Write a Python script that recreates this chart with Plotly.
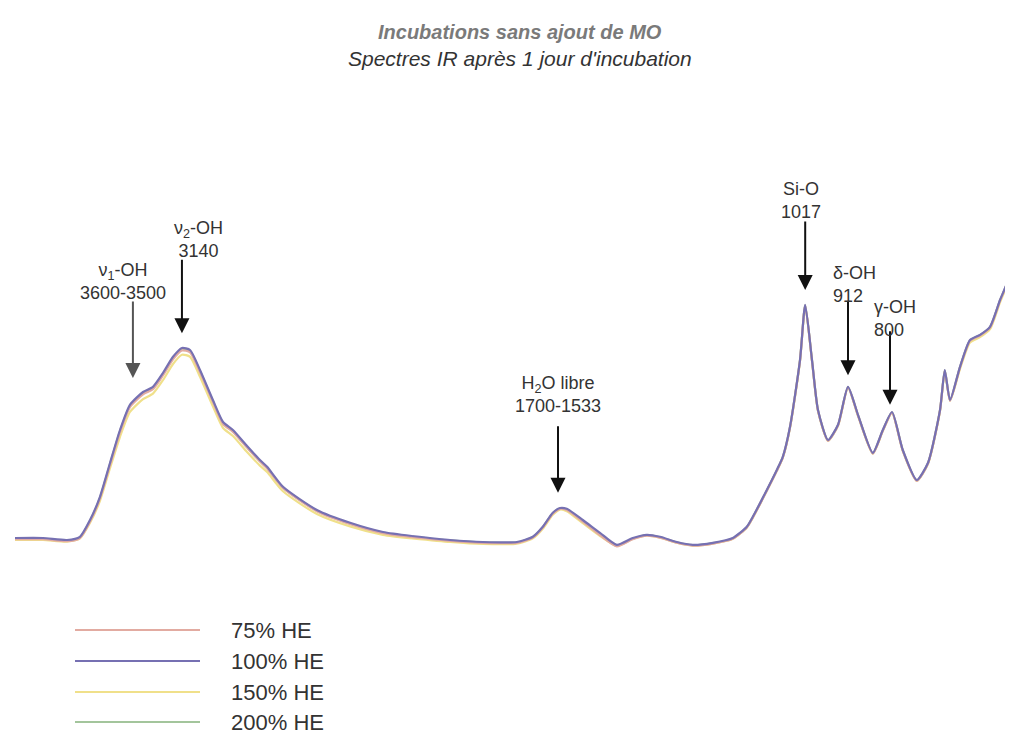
import numpy as np
import plotly.graph_objects as go

# ---------------- data ----------------
wavenumber = [4000, 3859, 3738, 3673, 3622, 3572, 3521, 3471, 3421, 3355, 3305, 3254,
              3204, 3159, 3118, 3068, 3003, 2952, 2902, 2831, 2766, 2730, 2650, 2479,
              2312, 2146, 2000, 1905, 1823, 1738, 1698, 1673, 1648, 1630, 1613, 1573,
              1530, 1488, 1448, 1413, 1380, 1338, 1298, 1248, 1198, 1163, 1148, 1113,
              1088, 1073, 1055, 1030, 1017, 1000, 985, 960, 935, 910, 885, 848,
              823, 800, 773, 738, 710, 680, 668, 655, 630, 605, 580, 555,
              530, 510, 500, 498]

abs_100 = [0.105, 0.105, 0.100, 0.108, 0.150, 0.208, 0.293, 0.375, 0.438, 0.470, 0.483, 0.518,
           0.558, 0.580, 0.575, 0.525, 0.450, 0.395, 0.375, 0.335, 0.300, 0.283, 0.233, 0.175,
           0.143, 0.120, 0.110, 0.100, 0.095, 0.095, 0.108, 0.133, 0.168, 0.180, 0.178, 0.150,
           0.118, 0.088, 0.105, 0.113, 0.108, 0.095, 0.088, 0.093, 0.105, 0.133, 0.158, 0.225,
           0.275, 0.308, 0.383, 0.550, 0.688, 0.550, 0.425, 0.350, 0.388, 0.483, 0.413, 0.318,
           0.375, 0.420, 0.325, 0.250, 0.293, 0.425, 0.525, 0.450, 0.533, 0.600, 0.613, 0.633,
           0.700, 0.750, 0.833, 0.913]

abs_75 = [0.102, 0.102, 0.097, 0.105, 0.146, 0.204, 0.288, 0.369, 0.432, 0.464, 0.477, 0.512,
          0.552, 0.574, 0.569, 0.519, 0.445, 0.390, 0.370, 0.331, 0.296, 0.279, 0.230, 0.172,
          0.140, 0.117, 0.107, 0.098, 0.093, 0.093, 0.106, 0.131, 0.166, 0.178, 0.175, 0.146,
          0.112, 0.084, 0.102, 0.111, 0.106, 0.093, 0.086, 0.091, 0.103, 0.131, 0.156, 0.223,
          0.273, 0.306, 0.381, 0.548, 0.686, 0.548, 0.423, 0.348, 0.386, 0.481, 0.411, 0.316,
          0.373, 0.418, 0.323, 0.248, 0.291, 0.423, 0.523, 0.448, 0.531, 0.598, 0.611, 0.631,
          0.698, 0.748, 0.831, 0.911]

abs_150 = [0.100, 0.100, 0.096, 0.104, 0.143, 0.198, 0.280, 0.358, 0.420, 0.452, 0.466, 0.500,
           0.540, 0.563, 0.558, 0.508, 0.434, 0.380, 0.360, 0.320, 0.286, 0.270, 0.222, 0.165,
           0.134, 0.113, 0.104, 0.095, 0.090, 0.091, 0.104, 0.128, 0.163, 0.176, 0.172, 0.142,
           0.110, 0.085, 0.103, 0.111, 0.106, 0.093, 0.086, 0.091, 0.103, 0.131, 0.156, 0.223,
           0.273, 0.306, 0.381, 0.548, 0.686, 0.548, 0.423, 0.348, 0.386, 0.481, 0.411, 0.316,
           0.373, 0.418, 0.323, 0.248, 0.291, 0.423, 0.523, 0.448, 0.528, 0.594, 0.607, 0.627,
           0.694, 0.745, 0.829, 0.909]

abs_200 = [0.103, 0.103, 0.098, 0.106, 0.148, 0.205, 0.290, 0.372, 0.435, 0.467, 0.480, 0.515,
           0.555, 0.577, 0.572, 0.522, 0.447, 0.392, 0.372, 0.332, 0.297, 0.280, 0.231, 0.173,
           0.141, 0.118, 0.108, 0.099, 0.094, 0.094, 0.107, 0.132, 0.167, 0.179, 0.176, 0.148,
           0.115, 0.086, 0.103, 0.112, 0.107, 0.094, 0.087, 0.092, 0.104, 0.132, 0.157, 0.224,
           0.274, 0.307, 0.382, 0.549, 0.687, 0.549, 0.424, 0.349, 0.387, 0.482, 0.412, 0.317,
           0.374, 0.419, 0.324, 0.249, 0.292, 0.424, 0.524, 0.449, 0.532, 0.599, 0.612, 0.632,
           0.699, 0.749, 0.832, 0.912]

series_names = ["75% HE", "100% HE", "150% HE", "200% HE"]
series_values = [abs_75, abs_100, abs_150, abs_200]
series_colors = ["#e2aba1", "#7670b2", "#f0e08a", "#a3c59c"]
draw_order = [3, 2, 0, 1]  # 200%, 150%, 75%, 100% (on top)

# band annotations: (label html, wavenumber of arrow tip, absorbance of arrow tip)
bands = [
    ("ν<sub>1</sub>-OH<br>3600-3500", 3406, 0.505),
    ("ν<sub>2</sub>-OH<br>3140", 3159, 0.617),
    ("H<sub>2</sub>O libre<br>1700-1533", 1635, 0.218),
    ("Si-O<br>1017", 1017, 0.725),
    ("δ-OH<br>912", 910, 0.512),
    ("γ-OH<br>800", 805, 0.438),
]

BREAK = 2000
wn = np.array(wavenumber)

fig = go.Figure()
for i in draw_order:
    vals = np.array(series_values[i])
    hi = wn >= BREAK
    lo = wn <= BREAK
    fig.add_trace(go.Scatter(x=wn[hi], y=vals[hi], mode="lines", name=series_names[i],
                             line=dict(color=series_colors[i], width=2.2, shape="spline", smoothing=0.6),
                             xaxis="x", yaxis="y", showlegend=False))
    fig.add_trace(go.Scatter(x=wn[lo], y=vals[lo], mode="lines", name=series_names[i],
                             line=dict(color=series_colors[i], width=2.2, shape="spline", smoothing=0.6),
                             xaxis="x2", yaxis="y", showlegend=False))

# geometry: the page body adds an 8px offset, so the figure is drawn 8px smaller
OFF = 8
PL, PW, PT, PH = 15, 998, 100, 480   # plot area in page pixels
FIG_W, FIG_H = 1013 - OFF, 750 - OFF


def px(x):
    return (x - PL) / PW


def py(y):
    return (PT + PH - y) / PH


split = (412 - PL) / PW
axis_common = dict(showgrid=False, zeroline=False, showticklabels=False, showline=False, ticks="")
fig.update_layout(
    width=FIG_W, height=FIG_H,
    margin=dict(l=PL - OFF, r=FIG_W - (PL - OFF) - PW, t=PT - OFF, b=FIG_H - (PT - OFF) - PH),
    paper_bgcolor="white", plot_bgcolor="white",
    xaxis=dict(domain=[0, split], range=[4000, BREAK], **axis_common),
    xaxis2=dict(domain=[split, 1], range=[BREAK, 497.5], anchor="y", **axis_common),
    yaxis=dict(range=[0, 1.2], **axis_common),
    font=dict(family="Liberation Sans, Arial, sans-serif", color="#333333"),
    showlegend=False,
)

annotations = []
# titles
annotations.append(dict(text="<b><i>Incubations sans ajout de MO</i></b>", xref="paper", yref="paper",
                        x=px(520), y=py(32), xanchor="center", yanchor="middle",
                        showarrow=False, font=dict(size=20, color="#7a7a7a")))
annotations.append(dict(text="<i>Spectres IR après 1 jour d'incubation</i>", xref="paper", yref="paper",
                        x=px(520), y=py(58), xanchor="center", yanchor="middle",
                        showarrow=False, font=dict(size=21, color="#333333")))

# band arrows (tips at data coordinates) and their labels
label_pos = [(123, 281, "center"), (198, 240, "center"), (558, 394, "center"),
             (801, 200, "center"), (831, 284, "left"), (872, 318, "left")]
tail_dy = [-78, -75, -68, -70, -75, -75]
arrow_colors = ["#555555", "#111111", "#111111", "#111111", "#111111", "#111111"]
for (label, w, a), (lx, ly, anc), dy, ac in zip(bands, label_pos, tail_dy, arrow_colors):
    xr = "x" if w >= BREAK else "x2"
    annotations.append(dict(text="", x=w, y=a, xref=xr, yref="y", showarrow=True,
                            ax=0, ay=dy, arrowhead=2, arrowsize=1.5, arrowwidth=2,
                            arrowcolor=ac, standoff=0))
    annotations.append(dict(text=label, xref="paper", yref="paper", x=px(lx), y=py(ly),
                            xanchor=anc, yanchor="middle", align=anc, showarrow=False,
                            font=dict(size=18, color="#333333")))

# legend (long sample lines as in the reference)
shapes = []
legend_rows = [630, 661, 692, 722]
for name, col, ry in zip(series_names, series_colors, legend_rows):
    shapes.append(dict(type="line", xref="paper", yref="paper", x0=px(75), x1=px(200),
                       y0=py(ry), y1=py(ry), line=dict(color=col, width=2)))
    annotations.append(dict(text=name, xref="paper", yref="paper", x=px(229), y=py(ry),
                            xanchor="left", yanchor="middle", showarrow=False,
                            font=dict(size=22, color="#333333")))

fig.update_layout(annotations=annotations, shapes=shapes)
fig.write_html("out.html")
